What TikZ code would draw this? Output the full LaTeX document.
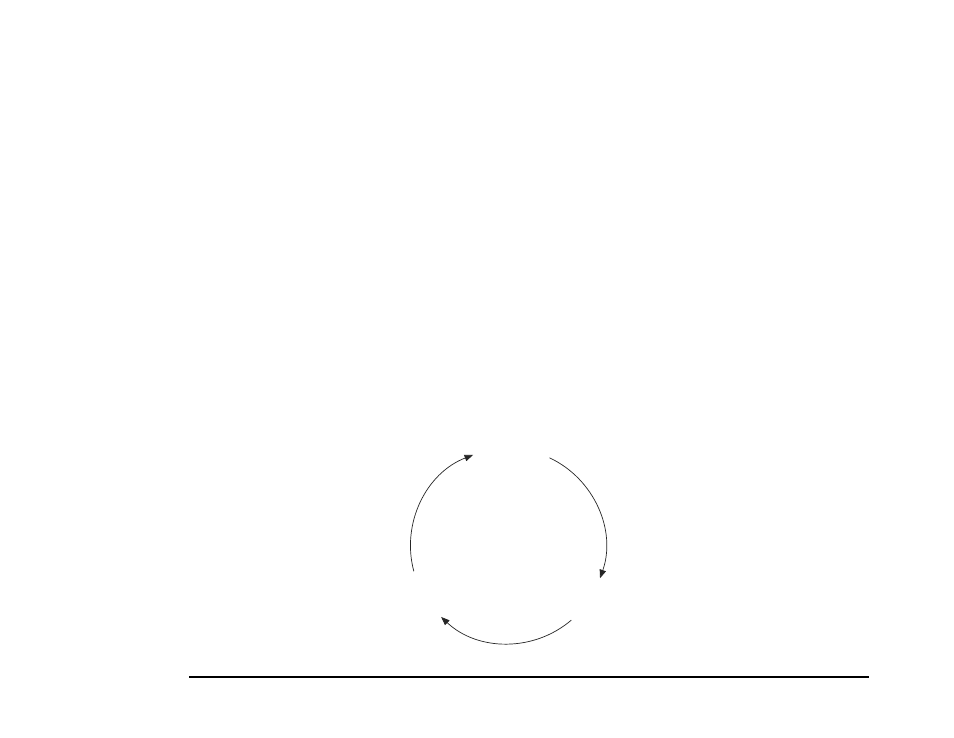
\documentclass[tikz,border=0pt]{standalone}
\usetikzlibrary{arrows.meta}
\begin{document}
\begin{tikzpicture}[x=1pt,y=1pt,
  cyclearc/.style={line width=0.7pt,draw=black!85,-{Triangle[length=8.5pt,width=6.5pt]}},
  baseline rule/.style={line width=1.3pt,draw=black}]
\useasboundingbox (0,0) rectangle (954,737);
\fill[white] (0,0) rectangle (954,737);
\coordinate (c) at (508,191);
\def\R{97.5}
\coordinate (s1) at ([shift={(195:\R)}]c);
\coordinate (s2) at ([shift={(64.8:\R)}]c);
\coordinate (s3) at ([shift={(-49.5:\R)}]c);
\draw[cyclearc] (s1) arc[start angle=195,end angle=111,radius=\R];
\draw[cyclearc] (s2) arc[start angle=64.8,end angle=-19.3,radius=\R];
\draw[cyclearc] (s3) arc[start angle=-49.5,end angle=-133.3,radius=\R];
\coordinate (l1) at (189,60);
\coordinate (l2) at (869,60);
\draw[baseline rule] (l1) -- (l2);
\end{tikzpicture}
\end{document}
